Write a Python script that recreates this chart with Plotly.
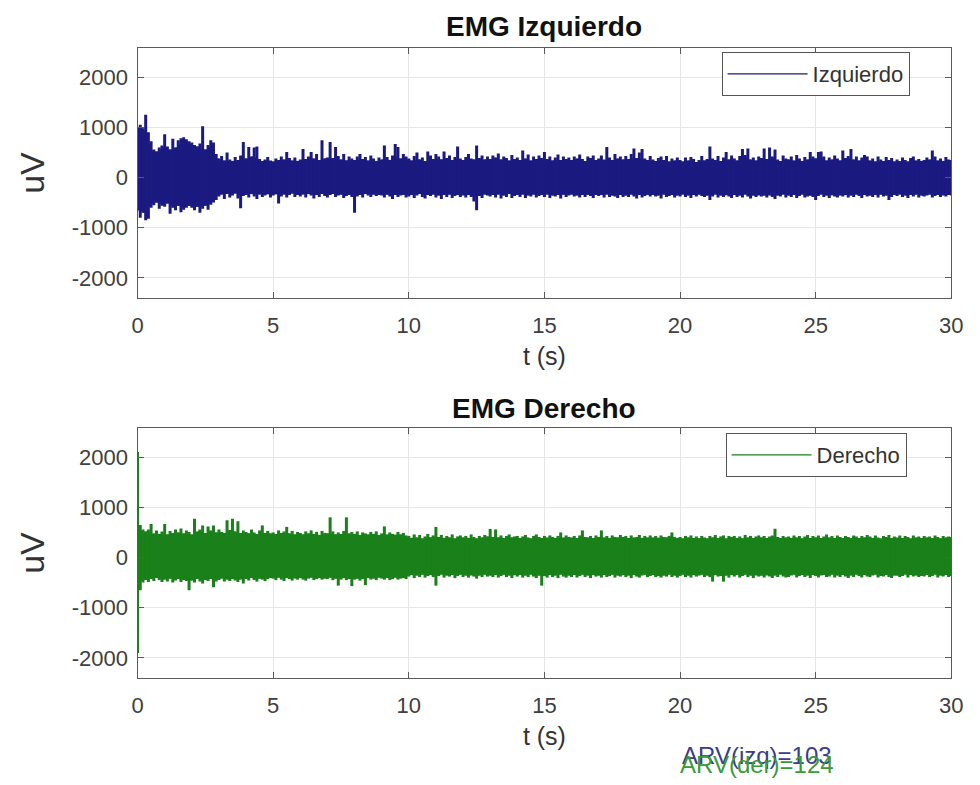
import plotly.graph_objects as go

# ---------------- data (peak envelope per 0.1 s, uV) ----------------
t = [round(i * 0.1, 1) for i in range(301)]

izq_max = [
    1000, 1050, 980, 1250, 900, 720, 560, 520, 600, 640,
    860, 620, 560, 770, 600, 740, 780, 800, 760, 720,
    700, 650, 620, 680, 1020, 560, 650, 740, 700, 470,
    380, 430, 340, 500, 360, 330, 410, 350, 440, 710,
    380, 610, 420, 600, 620, 370, 330, 360, 410, 340,
    320, 380, 350, 420, 360, 510, 390, 340, 400, 330,
    360, 570, 370, 420, 510, 380, 470, 350, 740, 380,
    400, 710, 390, 610, 430, 360, 470, 340, 420, 380,
    350, 420, 470, 370, 410, 340, 440, 380, 330, 400,
    360, 640, 410, 350, 440, 670, 610, 380, 470, 420,
    380, 340, 430, 500, 360, 400, 330, 520, 440, 370,
    470, 420, 360, 520, 390, 440, 350, 410, 620, 380,
    350, 410, 470, 380, 360, 640, 390, 440, 360, 420,
    370, 440, 400, 480, 360, 420, 390, 340, 450, 370,
    400, 350, 540, 380, 460, 340, 420, 370, 440, 390,
    510, 370, 420, 340, 400, 460, 350, 420, 370, 400,
    350, 420, 380, 460, 370, 330, 420, 390, 440, 350,
    380, 440, 360, 610, 400, 350, 470, 380, 420, 360,
    430, 370, 470, 580, 390, 500, 570, 380, 350, 430,
    360, 330, 390, 420, 350, 430, 320, 380, 340, 400,
    350, 320, 400, 340, 410, 370, 310, 350, 430, 340,
    370, 620, 380, 350, 430, 330, 400, 510, 360, 440,
    380, 340, 430, 570, 450, 580, 360, 400, 340, 420,
    390, 580, 370, 600, 420, 560, 360, 330, 440, 380,
    360, 420, 340, 450, 380, 330, 410, 360, 510, 420,
    380, 510, 520, 420, 340, 400, 360, 440, 380, 340,
    540, 390, 430, 570, 360, 420, 340, 400, 450, 420,
    340, 380, 320, 420, 360, 330, 410, 350, 390, 320,
    360, 330, 400, 350, 320, 390, 420, 340, 370, 330,
    350, 400, 360, 540, 420, 340, 380, 330, 410, 360,
    350,
]

izq_min = [
    -650, -800, -700, -850, -820, -600, -550, -500, -620, -560,
    -580, -520, -720, -600, -650, -560, -690, -640, -600, -560,
    -600, -650, -580, -700, -620, -560, -640, -540, -500, -450,
    -380, -340, -430, -330, -400, -360, -320, -420, -610, -370,
    -350, -400, -330, -380, -430, -340, -390, -360, -330, -400,
    -360, -330, -520, -380, -340, -400, -350, -320, -390, -350,
    -380, -340, -400, -330, -360, -420, -350, -390, -330, -370,
    -400, -350, -330, -390, -360, -340, -410, -370, -350, -390,
    -700, -380, -350, -400, -330, -360, -390, -340, -370, -350,
    -360, -400, -340, -380, -430, -350, -390, -360, -340, -400,
    -380, -350, -410, -360, -330, -390, -420, -350, -370, -340,
    -400, -360, -430, -350, -390, -340, -410, -370, -350, -390,
    -360, -400, -350, -390, -480, -650, -370, -410, -340, -360,
    -380, -350, -400, -340, -420, -360, -390, -330, -410, -370,
    -350, -390, -340, -410, -360, -380, -340, -400, -370, -350,
    -390, -340, -410, -360, -380, -350, -420, -340, -390, -360,
    -340, -380, -360, -400, -350, -390, -340, -370, -410, -350,
    -370, -350, -400, -340, -390, -360, -380, -410, -350, -390,
    -360, -390, -340, -380, -420, -350, -400, -370, -340, -380,
    -350, -380, -360, -420, -340, -390, -370, -350, -400, -360,
    -380, -340, -390, -360, -410, -350, -380, -340, -370, -390,
    -360, -450, -380, -340, -400, -360, -390, -350, -380, -410,
    -350, -390, -360, -400, -340, -380, -420, -360, -390, -350,
    -380, -360, -400, -350, -390, -430, -360, -380, -340, -400,
    -360, -390, -350, -410, -370, -340, -400, -380, -360, -390,
    -450, -370, -340, -390, -360, -410, -350, -380, -400, -360,
    -380, -350, -400, -360, -390, -340, -370, -410, -350, -380,
    -360, -390, -350, -400, -340, -380, -360, -450, -390, -350,
    -370, -340, -390, -360, -410, -350, -380, -340, -400, -360,
    -380, -360, -340, -400, -370, -350, -390, -360, -380, -350,
    -360,
]

der_max = [
    2100, 650, 560, 520, 560, 670, 480, 540, 470, 520,
    670, 460, 530, 490, 560, 500, 580, 480, 540, 510,
    460, 770, 520, 560, 640, 490, 620, 540, 640, 500,
    560, 510, 490, 740, 550, 770, 520, 720, 490, 540,
    510, 480, 560, 500, 470, 540, 640, 490, 530, 480,
    500, 470, 540, 490, 520, 610, 480, 530, 460, 510,
    490, 460, 520, 480, 540, 470, 510, 450, 530, 490,
    480, 800, 520, 460, 500, 470, 530, 800, 480, 510,
    470, 520, 450, 500, 480, 460, 510, 470, 520, 450,
    480, 620, 460, 500, 470, 450, 510, 460, 490, 440,
    430, 390, 460, 400, 450, 380, 420, 470, 400, 440,
    610, 410, 450, 390, 430, 400, 460, 380, 420, 440,
    400, 430, 390, 460, 410, 380, 430, 400, 450, 420,
    570, 410, 560, 400, 440, 390, 430, 460, 400, 420,
    430, 390, 420, 450, 400, 380, 430, 460, 410, 390,
    430, 400, 440, 410, 390, 430, 500, 400, 440, 410,
    400, 430, 390, 440, 540, 410, 400, 430, 390, 440,
    410, 540, 400, 430, 390, 440, 410, 400, 450, 410,
    430, 390, 440, 400, 410, 450, 390, 430, 400, 440,
    400, 430, 390, 440, 410, 400, 430, 500, 410, 390,
    410, 380, 430, 400, 440, 390, 420, 380, 430, 400,
    380, 430, 400, 450, 390, 420, 440, 380, 430, 410,
    430, 390, 420, 380, 450, 400, 430, 390, 420, 440,
    400, 430, 390, 420, 440, 575, 410, 390, 430, 400,
    420, 390, 440, 400, 430, 380, 420, 450, 390, 430,
    400, 440, 390, 420, 460, 400, 430, 390, 440, 410,
    390, 430, 410, 380, 440, 420, 390, 430, 400, 450,
    420, 390, 440, 400, 380, 430, 410, 450, 390, 420,
    400, 440, 390, 430, 410, 380, 440, 400, 420, 390,
    430, 400, 420, 390, 440, 410, 380, 430, 400, 420,
    410,
]

der_min = [
    -1900, -650, -500, -450, -490, -430, -470, -410, -450, -490,
    -440, -480, -420, -500, -460, -430, -490, -450, -470, -650,
    -460, -500, -430, -480, -520, -450, -470, -430, -590, -480,
    -450, -420, -480, -440, -470, -430, -460, -490, -440, -520,
    -430, -460, -410, -450, -480, -420, -440, -470, -430, -410,
    -420, -450, -400, -440, -470, -410, -430, -460, -420, -440,
    -410, -440, -460, -420, -400, -450, -430, -410, -440, -420,
    -430, -400, -450, -420, -560, -440, -410, -450, -430, -570,
    -440, -420, -460, -430, -550, -410, -440, -420, -450, -400,
    -420, -440, -410, -450, -430, -400, -440, -420, -410, -430,
    -380, -350, -410, -360, -390, -340, -400, -370, -350, -390,
    -560, -370, -340, -400, -360, -380, -350, -410, -370, -340,
    -390, -360, -400, -350, -380, -420, -360, -390, -340, -380,
    -360, -390, -350, -400, -370, -340, -390, -360, -410, -350,
    -380, -350, -400, -360, -390, -340, -380, -410, -360, -560,
    -370, -400, -350, -390, -360, -410, -340, -380, -400, -360,
    -390, -350, -400, -370, -340, -390, -360, -410, -350, -380,
    -360, -400, -350, -390, -370, -340, -400, -360, -380, -350,
    -390, -360, -410, -350, -380, -400, -360, -340, -390, -370,
    -350, -390, -370, -400, -360, -380, -340, -390, -360, -400,
    -370, -340, -390, -360, -400, -350, -380, -360, -340, -390,
    -360, -390, -480, -350, -380, -370, -480, -360, -400, -350,
    -380, -350, -400, -370, -340, -390, -360, -410, -350, -380,
    -360, -400, -350, -380, -410, -360, -390, -340, -380, -400,
    -390, -360, -340, -400, -370, -350, -390, -360, -410, -350,
    -370, -400, -360, -350, -390, -380, -340, -400, -360, -390,
    -350, -380, -410, -360, -390, -340, -370, -400, -350, -380,
    -390, -360, -340, -400, -370, -380, -350, -390, -410, -360,
    -360, -390, -370, -340, -400, -350, -380, -360, -390, -370,
    -380, -350, -390, -370, -340, -400, -360, -380, -350, -390,
    -370,
]

x_ticks = [0, 5, 10, 15, 20, 25, 30]
y_ticks = [-2000, -1000, 0, 1000, 2000]
arv_izq = 103
arv_der = 124

BLUE = "#1a1a80"
GREEN = "#1a801a"
FONT = "Liberation Sans, Arial, sans-serif"


def segments(tt, lo, hi):
    xs, ys = [], []
    for a, b, c in zip(tt, lo, hi):
        xs += [a, a, None]
        ys += [b, c, None]
    return xs, ys


def band(tt, lo, hi):
    # solid core of the trace: neighbourhood minimum of the peaks, so spikes stay thin
    n = len(tt)
    up = [min(hi[max(i - 1, 0):min(i + 2, n)]) for i in range(n)]
    dn = [max(lo[max(i - 1, 0):min(i + 2, n)]) for i in range(n)]
    return list(tt) + list(tt)[::-1], up + dn[::-1]


def add_channel(fig, lo, hi, color, name, xa, ya, leg):
    bx, by = band(t, lo, hi)
    fig.add_trace(go.Scatter(x=bx, y=by, mode="lines", fill="toself", fillcolor=color,
                             line=dict(color=color, width=0), showlegend=False,
                             xaxis=xa, yaxis=ya, hoverinfo="skip"))
    xs, ys = segments(t, lo, hi)
    fig.add_trace(go.Scatter(x=xs, y=ys, mode="lines", line=dict(color=color, width=3.0),
                             showlegend=False, xaxis=xa, yaxis=ya, hoverinfo="skip"))
    fig.add_trace(go.Scatter(x=[None], y=[None], mode="lines", name=name,
                             line=dict(color=color, width=1.3), xaxis=xa, yaxis=ya, legend=leg))


fig = go.Figure()
add_channel(fig, izq_min, izq_max, BLUE, "Izquierdo", "x", "y", "legend")
add_channel(fig, der_min, der_max, GREEN, "Derecho", "x2", "y2", "legend2")

W, H = 980, 785
xdom = [134 / W, 963 / W]
ydom_top = [1 - 298 / H, 1 - 48 / H]
ydom_bot = [1 - 678 / H, 1 - 428 / H]

axis_common = dict(
    showgrid=True, gridcolor="#e6e6e6", gridwidth=1,
    showline=True, linecolor="#5a5a5a", linewidth=1.3, mirror="ticks",
    ticks="inside", ticklen=6, tickcolor="#5a5a5a", tickwidth=1,
    zeroline=False,
    tickfont=dict(family=FONT, size=22, color="#404040"),
)

xcommon = dict(axis_common, range=[0, 30], tickmode="array", tickvals=x_ticks,
               ticktext=[str(v) for v in x_ticks], ticklabelstandoff=7,
               title=dict(text="t (s)", font=dict(family=FONT, size=25, color="#333333"), standoff=10))
ycommon = dict(axis_common, range=[-2400, 2580], tickmode="array", tickvals=y_ticks,
               ticktext=[str(v) for v in y_ticks], ticklabelstandoff=4,
               title=dict(text="uV", font=dict(family=FONT, size=34, color="#333333"), standoff=16))

fig.update_layout(
    width=W, height=H,
    margin=dict(l=0, r=0, t=0, b=0),
    paper_bgcolor="white", plot_bgcolor="white",
    font=dict(family=FONT, color="#333333"),
    xaxis=dict(xcommon, domain=xdom, anchor="y"),
    yaxis=dict(ycommon, domain=ydom_top, anchor="x"),
    xaxis2=dict(xcommon, domain=xdom, anchor="y2"),
    yaxis2=dict(ycommon, domain=ydom_bot, anchor="x2"),
    legend=dict(x=729 / W, y=1 - 52 / H, xanchor="left", yanchor="top",
                bgcolor="white", bordercolor="#555555", borderwidth=1,
                font=dict(family=FONT, size=22, color="#333333"), itemwidth=80),
    legend2=dict(x=733 / W, y=1 - 433 / H, xanchor="left", yanchor="top",
                 bgcolor="white", bordercolor="#555555", borderwidth=1,
                 font=dict(family=FONT, size=22, color="#333333"), itemwidth=80),
    annotations=[
        dict(text="<b>EMG Izquierdo</b>", x=0.5597, y=1 - 27 / H, xref="paper", yref="paper",
             showarrow=False, xanchor="center", yanchor="middle",
             font=dict(family=FONT, size=28, color="#111111")),
        dict(text="<b>EMG Derecho</b>", x=0.5597, y=1 - 408 / H, xref="paper", yref="paper",
             showarrow=False, xanchor="center", yanchor="middle",
             font=dict(family=FONT, size=28, color="#111111")),
        dict(text=f"ARV(izq)={arv_izq}", x=765 / W, y=1 - 755 / H, xref="paper", yref="paper",
             showarrow=False, xanchor="center", yanchor="middle",
             font=dict(family=FONT, size=24, color="#3b3b8f")),
        dict(text=f"ARV(der)={arv_der}", x=765 / W, y=1 - 764 / H, xref="paper", yref="paper",
             showarrow=False, xanchor="center", yanchor="middle",
             font=dict(family=FONT, size=24, color="#3a9a3a")),
    ],
)

fig.write_html("out.html")
